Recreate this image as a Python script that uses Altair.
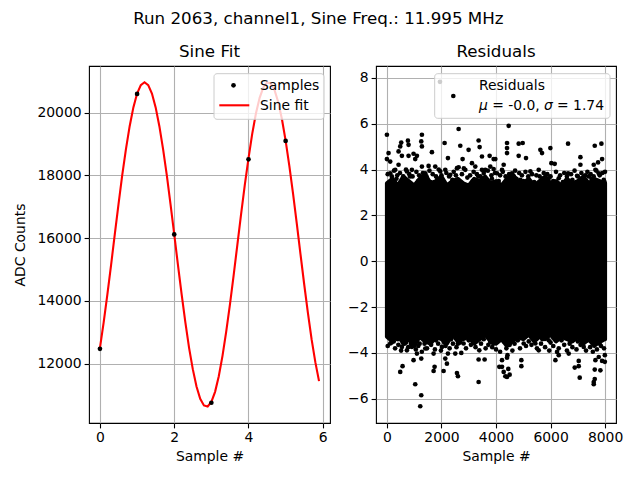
import altair as alt
import pandas as pd

FONT = "DejaVu Sans"

# ---------------- data ----------------
sample_x = [0, 1, 2, 3, 4, 5]
sample_y = [12470, 20598, 16118, 10752, 18512, 19098]

fit_x = [round(i * 0.1, 1) for i in range(60)]
fit_y = [12502, 13314, 14204, 15150, 16124, 17085, 18006, 18839, 19568, 20168,
         20608, 20877, 20970, 20877, 20608, 20168, 19568, 18839, 18006, 17085,
         16124, 15150, 14204, 13314, 12502, 11824, 11271, 10878, 10666, 10634,
         10779, 11100, 11597, 12248, 13019, 13883, 14814, 15787, 16754, 17690,
         18544, 19325, 19972, 20473, 20805, 20960, 20929, 20722, 20339, 19796,
         19108, 18306, 17416, 16470, 15492, 14530, 13614, 12771, 12047, 11441]

# dense core of the residual scatter (solid black band)
band_x = [0, 200, 400, 600, 800, 1000, 1200, 1400, 1600, 1800, 2000, 2200, 2400, 2600,
          2800, 3000, 3200, 3400, 3600, 3800, 4000, 4200, 4400, 4600, 4800, 5000, 5200,
          5400, 5600, 5800, 6000, 6200, 6400, 6600, 6800, 7000, 7200, 7400, 7600, 7800, 7999]
band_hi = [3.4, 3.6, 3.3, 3.7, 3.5, 3.3, 3.6, 3.8, 3.4, 3.5, 3.7, 3.3, 3.5, 3.6,
           3.4, 3.3, 3.6, 3.5, 3.7, 3.4, 3.5, 3.3, 3.6, 3.8, 3.5, 3.4, 3.6,
           3.3, 3.5, 3.7, 3.4, 3.5, 3.3, 3.6, 3.4, 3.5, 3.7, 3.4, 3.6, 3.5, 3.4]
band_lo = [-3.3, -3.5, -3.2, -3.6, -3.4, -3.7, -3.3, -3.5, -3.6, -3.3, -3.4, -3.6, -3.2, -3.5,
           -3.4, -3.3, -3.6, -3.4, -3.2, -3.5, -3.6, -3.4, -3.7, -3.5, -3.3, -3.4, -3.2,
           -3.5, -3.3, -3.4, -3.2, -3.5, -3.3, -3.4, -3.5, -3.3, -3.6, -3.4, -3.7, -3.5, -3.4]

# individual residual points outside the dense core
res_x = [0, 2629, 1283, 1259, 1283, 525, 488, 770, 794, 2115, 2690, 2995, 3362, 3399,
         60, 0, 121, 427, 549, 794, 977, 1100, 1038, 1650, 2237, 2775, 3485, 3766,
         3913, 427, 1772, 1528, 2629, 3118, 3240, 3607, 3913, 2140, 1283,
         4464, 4403, 4403, 4403, 4831, 4978, 4831, 5100, 5626, 5687, 5993, 6030, 6152,
         6641, 7094, 7094, 7620, 7864, 7889, 7742, 7583, 5259, 5565, 6641, 6971, 4281,
         7950, 5932, 6299, 5810, 3975, 4220, 4586, 7400, 7644, 7766, 4892,
         121, 305, 733, 916, 1406, 1956, 2323, 2568, 2873, 3485, 3790, 4035, 1945,
         200, 350, 650, 850, 1150, 1350, 1600, 1850, 2050, 2400, 2700, 2950, 3150, 3350,
         3650, 3850, 4100, 4350, 4550, 4750, 5000, 5400, 5700, 6100, 6450, 6800, 7200,
         7500, 7700, 7980,
         30, 180, 260, 380, 480, 600, 700, 820, 940, 1080, 1180, 1320, 1450, 1560,
         1680, 1800, 1900, 2000, 2180, 2280, 2450, 2530, 2750, 2820, 3050, 3180, 3300,
         3430, 3550, 3700, 3830, 3960, 4150, 4250, 4480, 4650, 4700, 4850, 4950, 5080,
         5180, 5320, 5480, 5600, 5750, 5880, 6000, 6200, 6350, 6500, 6600, 6750, 6880,
         7000, 7130, 7270, 7350, 7470, 7580, 7680, 7800, 7900, 7995,
         60, 121, 549, 733, 916, 1100, 1406, 1712, 2017, 2237, 2506, 2727, 2812, 3387,
         3790, 4035, 488, 574, 977, 1259, 1038, 1259, 1222, 1748, 1712, 2078, 2140, 2200,
         2568, 2604, 3362, 3362, 3582, 4121, 4220, 4281, 4403, 4342, 4403, 4220, 4929,
         4929, 5015, 5565, 6177, 6299, 6238, 6666, 7032, 7032, 6886, 7069, 7644, 7889,
         7620, 7827, 7620, 7583, 7583, 7990, 7766, 7990, 7216, 5443, 4709, 5932, 7889,
         7644, 4450, 4500,
         250, 400, 700, 1000, 1200, 1500, 1800, 2100, 2350, 2600, 3000, 3200, 3550, 3900,
         4300, 4500, 4800, 5200, 5700, 6000, 6400, 6700, 7000, 7350, 7800,
         30, 170, 300, 420, 520, 640, 780, 880, 1060, 1150, 1280, 1380, 1470, 1620,
         1760, 1880, 1980, 2150, 2300, 2420, 2550, 2680, 2900, 3080, 3250, 3450, 3620,
         3720, 3860, 4000, 4150, 4380, 4420, 4600, 4680, 4880, 5100, 5300, 5500, 5650,
         5800, 5950, 6100, 6300, 6500, 6600, 6800, 6950, 7100, 7300, 7450, 7550, 7700,
         7850, 7960]
res_y = [5.52, 5.77, 5.52, 5.23, 5.01, 5.18, 5.01, 5.26, 5.08, 5.16, 5.04, 4.86, 5.27, 4.98,
         4.72, 4.46, 4.35, 4.79, 4.60, 4.60, 4.69, 4.60, 4.46, 4.76, 4.50, 4.46, 4.57, 4.60,
         4.46, 4.21, 4.13, 4.16, 4.10, 4.28, 4.13, 3.99, 4.02, 3.99, 4.13,
         5.91, 5.16, 4.94, 4.72, 5.13, 5.16, 4.60, 4.50, 4.86, 4.72, 4.94, 4.28, 4.25,
         5.13, 4.54, 4.21, 5.04, 5.13, 4.46, 4.31, 4.21, 3.92, 3.99, 3.84, 3.73, 4.21,
         3.55, 3.62, 3.62, 3.55, 4.46, 3.99, 3.84, 3.70, 3.99, 3.84, 3.55,
         3.84, 3.99, 3.92, 3.99, 3.84, 3.92, 3.77, 4.06, 3.99, 3.99, 4.13, 3.84, 7.83,
         3.5, 3.6, 3.45, 3.7, 3.5, 3.65, 3.45, 3.6, 3.5, 3.55, 3.45, 3.65, 3.5, 3.7,
         3.45, 3.6, 3.5, 3.7, 3.45, 3.6, 3.5, 3.45, 3.6, 3.5, 3.45, 3.55, 3.45,
         3.6, 3.5, 3.45,
         3.8, 3.7, 3.95, 3.75, 3.85, 3.7, 4.0, 3.8, 3.7, 3.9, 3.75, 3.85, 3.7, 3.95,
         3.8, 3.7, 4.0, 3.75, 3.85, 3.7, 3.9, 3.75, 3.8, 4.05, 3.75, 3.9, 3.8,
         3.7, 3.85, 3.95, 3.75, 3.85, 3.75, 3.9, 3.8, 3.7, 3.95, 3.85, 3.75, 3.9,
         3.7, 3.8, 3.75, 3.7, 3.85, 3.8, 3.7, 3.9, 3.75, 3.85, 3.7, 3.8, 3.95,
         3.7, 3.85, 3.75, 3.9, 3.8, 3.7, 3.95, 3.75, 3.85, 3.9,
         -3.16, -3.59, -3.74, -3.89, -3.74, -4.03, -3.81, -4.03, -3.74, -4.03, -4.03, -4.00, -3.59, -3.89,
         -3.52, -3.38, -4.83, -4.58, -4.32, -4.25, -5.37, -5.85, -6.33, -4.61, -4.79, -4.79, -4.25, -4.47,
         -4.88, -5.02, -4.29, -5.27, -4.29, -4.61, -4.61, -4.83, -5.05, -5.02, -4.21, -4.32, -4.32,
         -4.58, -3.59, -3.89, -4.32, -4.10, -3.96, -4.03, -4.35, -4.58, -4.64, -5.08, -4.32, -4.35,
         -4.73, -4.76, -5.14, -5.37, -5.27, -4.39, -4.18, -4.10, -3.74, -3.59, -3.30, -3.45, -3.45,
         -3.59, -4.70, -4.95,
         -3.5, -3.4, -3.55, -3.45, -3.6, -3.5, -3.45, -3.55, -3.4, -3.6, -3.45, -3.55, -3.4, -3.6,
         -3.5, -3.65, -3.45, -3.5, -3.4, -3.55, -3.45, -3.6, -3.5, -3.45, -3.6,
         -3.7, -3.55, -3.8, -3.65, -3.9, -3.6, -3.75, -3.6, -3.85, -3.7, -3.95, -3.6, -3.8, -3.65,
         -3.85, -3.6, -3.9, -3.7, -3.8, -3.6, -3.75, -3.55, -3.8, -3.65, -3.75, -3.6, -3.8,
         -3.65, -3.75, -3.85, -3.95, -3.8, -4.1, -3.9, -3.6, -3.8, -3.7, -3.65, -3.8, -3.6,
         -3.75, -3.9, -3.7, -3.8, -3.65, -3.9, -3.75, -3.85, -3.65, -3.9, -3.75, -3.95, -3.85,
         -3.7, -3.8]

left_xticks = [0, 2, 4, 6]
left_yticks = [12000, 14000, 16000, 18000, 20000]
right_xticks = [0, 2000, 4000, 6000, 8000]
right_yticks = [-6, -4, -2, 0, 2, 4, 6, 8]

samples_df = pd.DataFrame({"x": sample_x, "y": sample_y})
fit_df = pd.DataFrame({"x": fit_x, "y": fit_y})
band_df = pd.DataFrame({"x": band_x, "hi": band_hi, "lo": band_lo})
res_df = pd.DataFrame({"x": res_x, "y": res_y})
one = pd.DataFrame({"a": [0]})

W_L, W_R, H = 241, 240, 357
FS = 13.9
PT = 22

# ---------------- left panel ----------------
lx = alt.X("x:Q", scale=alt.Scale(domain=[-0.295, 6.195], nice=False, zero=False),
           axis=alt.Axis(values=left_xticks, title="Sample #", format="d"))
ly = alt.Y("y:Q", scale=alt.Scale(domain=[10107, 21487], nice=False, zero=False),
           axis=alt.Axis(values=left_yticks, title="ADC Counts", format="d", titlePadding=9))

fit_line = alt.Chart(fit_df).mark_line(color="#ff0000", strokeWidth=2.1).encode(x=lx, y=ly)
samp_pts = alt.Chart(samples_df).mark_circle(color="black", size=PT, opacity=1).encode(x=lx, y=ly)

leg_box_l = alt.Chart(one).mark_rect(fill="white", fillOpacity=0.8, stroke="#cccccc",
                                     strokeWidth=1, cornerRadius=3).encode(
    x=alt.value(125), x2=alt.value(235), y=alt.value(7.7), y2=alt.value(53.3))
leg_pt_l = alt.Chart(one).mark_circle(color="black", size=PT, opacity=1).encode(
    x=alt.value(144.5), y=alt.value(19.3))
leg_ln_l = alt.Chart(one).mark_rule(color="#ff0000", strokeWidth=2.1).encode(
    x=alt.value(130.3), x2=alt.value(160.3), y=alt.value(39.3))
leg_t1_l = alt.Chart(one).mark_text(text="Samples", align="left", baseline="middle",
                                    font=FONT, fontSize=FS, color="black").encode(
    x=alt.value(171), y=alt.value(19.8))
leg_t2_l = alt.Chart(one).mark_text(text="Sine fit", align="left", baseline="middle",
                                    font=FONT, fontSize=FS, color="black").encode(
    x=alt.value(171), y=alt.value(39.8))

left = alt.layer(fit_line, samp_pts, leg_box_l, leg_pt_l, leg_ln_l, leg_t1_l, leg_t2_l).properties(
    width=W_L, height=H, title=alt.TitleParams("Sine Fit", fontSize=16.7, font=FONT,
                                                fontWeight="normal", offset=5))

# ---------------- right panel ----------------
rx = alt.X("x:Q", scale=alt.Scale(domain=[-400, 8399], nice=False, zero=False),
           axis=alt.Axis(values=right_xticks, title="Sample #", format="d"))
ry = alt.Y("y:Q", scale=alt.Scale(domain=[-7.06, 8.52], nice=False, zero=False),
           axis=alt.Axis(values=right_yticks, title=None, format="d"))

band = alt.Chart(band_df).mark_area(color="black", stroke="black", strokeWidth=4,
                                    strokeJoin="round", opacity=1).encode(
    x=alt.X("x:Q", scale=alt.Scale(domain=[-400, 8399], nice=False, zero=False),
            axis=alt.Axis(values=right_xticks, title="Sample #", format="d")),
    y=alt.Y("hi:Q", scale=alt.Scale(domain=[-7.06, 8.52], nice=False, zero=False),
            axis=alt.Axis(values=right_yticks, title=None, format="d")),
    y2="lo:Q")
res_pts = alt.Chart(res_df).mark_circle(color="black", size=PT, opacity=1).encode(x=rx, y=ry)

leg_box_r = alt.Chart(one).mark_rect(fill="white", fillOpacity=0.8, stroke="#cccccc",
                                     strokeWidth=1, cornerRadius=3).encode(
    x=alt.value(58.7), x2=alt.value(234), y=alt.value(7.7), y2=alt.value(52.3))
leg_pt_r = alt.Chart(one).mark_circle(color="black", size=PT, opacity=1).encode(
    x=alt.value(77.3), y=alt.value(30))
leg_t1_r = alt.Chart(one).mark_text(text="Residuals", align="left", baseline="middle",
                                    font=FONT, fontSize=FS, color="black").encode(
    x=alt.value(103), y=alt.value(19.5))


def leg_txt(s, xpos, italic=False):
    kw = dict(text=s, align="left", baseline="middle", font=FONT, fontSize=FS, color="black")
    if italic:
        kw["fontStyle"] = "italic"
    return alt.Chart(one).mark_text(**kw).encode(x=alt.value(xpos), y=alt.value(39.5))


leg_mu = leg_txt("\u03bc", 103, italic=True)
leg_mu_v = leg_txt("= -0.0,", 116.2)
leg_sg = leg_txt("\u03c3", 168, italic=True)
leg_sg_v = leg_txt("= 1.74", 181)

right = alt.layer(band, res_pts, leg_box_r, leg_pt_r, leg_t1_r,
                  leg_mu, leg_mu_v, leg_sg, leg_sg_v).properties(
    width=W_R, height=H, title=alt.TitleParams("Residuals", fontSize=16.7, font=FONT,
                                                fontWeight="normal", offset=5))

chart = alt.hconcat(left, right, spacing=16).properties(
    title=alt.TitleParams("Run 2063, channel1, Sine Freq.: 11.995 MHz", fontSize=16.7,
                          font=FONT, fontWeight="normal", anchor="middle", offset=16),
    padding={"left": 5, "top": 3, "right": 5, "bottom": 5},
    background="white",
).configure_view(
    stroke="black", strokeWidth=1.1
).configure_axis(
    domain=False, tickColor="black", tickSize=4.9, tickWidth=1.1,
    labelFont=FONT, labelFontSize=FS, labelColor="black", labelPadding=3,
    gridColor="#b0b0b0", gridWidth=1.1, titleFont=FONT, titleFontSize=FS,
    titleFontWeight="normal", titleColor="black", titlePadding=5
).configure_title(color="black")

chart.save("out.html", embed_options={"renderer": "svg", "actions": False})
